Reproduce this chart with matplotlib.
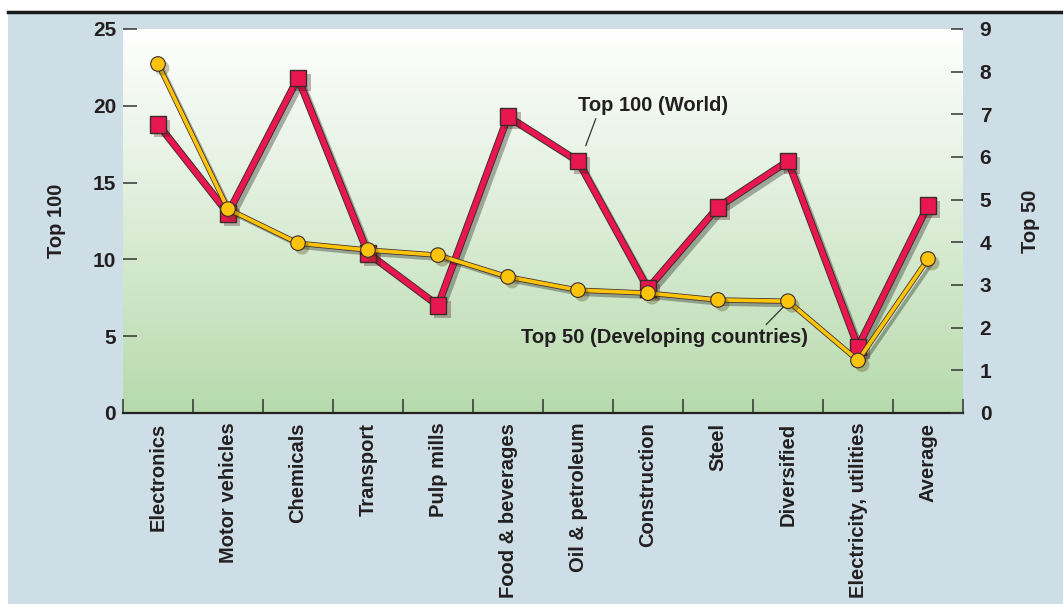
import numpy as np
import matplotlib.pyplot as plt
import matplotlib.patheffects as pe
from matplotlib.colors import LinearSegmentedColormap
from matplotlib.lines import Line2D

plt.rcParams['font.family'] = ['Liberation Sans', 'DejaVu Sans']
plt.rcParams['font.weight'] = 'bold'

categories = ['Electronics', 'Motor vehicles', 'Chemicals', 'Transport', 'Pulp mills',
              'Food & beverages', 'Oil & petroleum', 'Construction', 'Steel',
              'Diversified', 'Electricity, utilities', 'Average']
top100 = [18.8, 13.0, 21.8, 10.4, 7.0, 19.3, 16.4, 8.1, 13.4, 16.4, 4.3, 13.5]
top50 = [8.18, 4.78, 3.98, 3.82, 3.70, 3.19, 2.88, 2.81, 2.65, 2.62, 1.23, 3.61]
left_ticks = [0, 5, 10, 15, 20, 25]
right_ticks = list(range(10))

txt = '#231f20'
red = '#e8174f'
yellow = '#fcc30b'
edge = '#3b2b2b'

fig = plt.figure(figsize=(10.63, 6.04), dpi=100, facecolor='white')
# blue panel + rule at the top
fig.patches.append(plt.Rectangle((8 / 1063, 0), 1, 1 - 12 / 604, transform=fig.transFigure,
                                 facecolor='#cedee7', edgecolor='none', zorder=-10))
fig.add_artist(Line2D([8 / 1063, 1], [1 - 12 / 604] * 2, color='#1a1a1a', lw=2.5))

ax = fig.add_axes([123 / 1063, 1 - 413 / 604, 840 / 1063, 384 / 604])
x = np.arange(len(categories))
ax.set_xlim(-0.5, len(categories) - 0.5)
ax.set_ylim(0, 25)

grad = LinearSegmentedColormap.from_list('g', ['#b6daac', '#dcedd7', '#ffffff'])
ax.imshow(np.linspace(0, 1, 256).reshape(-1, 1), cmap=grad, origin='lower', aspect='auto',
          extent=(-0.5, len(categories) - 0.5, 0, 25), zorder=0)

for s in ['top', 'left', 'right']:
    ax.spines[s].set_visible(False)
ax.spines['bottom'].set_linewidth(1.6)
ax.spines['bottom'].set_color('#222222')
ax.spines['bottom'].set_zorder(5)

ax.set_xticks(x)
ax.set_xticklabels(categories, rotation=90, fontsize=14.5, color=txt, fontweight='bold')
ax.tick_params(axis='x', which='major', length=0, pad=7)
ax.set_xticks(np.arange(-0.5, len(categories)), minor=True)
ax.tick_params(axis='x', which='minor', direction='in', length=10, width=1.1, color='#333333')

ax.set_yticks(left_ticks)
ax.tick_params(axis='y', direction='in', length=10, width=1.1, color='#333333',
               labelsize=15, labelcolor=txt, pad=5)
ax.set_ylabel('Top 100', fontsize=14.5, color=txt, fontweight='bold', labelpad=19)

shadow_line = pe.SimpleLineShadow(offset=(3, -3), shadow_color='k', alpha=0.3)
ax.plot(x, top100, color=red, lw=4, zorder=3,
        path_effects=[shadow_line, pe.Stroke(linewidth=5.3, foreground=edge), pe.Normal()])
ax.plot(x, top100, ls='none', marker='s', ms=12, mfc=red, mec=edge, mew=1, zorder=4,
        path_effects=[pe.SimplePatchShadow(offset=(3, -3), alpha=0.3), pe.Normal()])

ax2 = ax.twinx()
ax2.set_ylim(0, 9)
for s in ['top', 'left', 'right', 'bottom']:
    ax2.spines[s].set_visible(False)
ax2.set_yticks(right_ticks)
ax2.tick_params(axis='y', direction='in', length=9, width=1.1, color='#333333',
                labelsize=15, labelcolor=txt, pad=12)
ax2.set_ylabel('Top 50', fontsize=14.5, color=txt, fontweight='bold', labelpad=21)

ax2.plot(x, top50, color=yellow, lw=2.7, zorder=3,
         path_effects=[shadow_line, pe.Stroke(linewidth=3.8, foreground=edge), pe.Normal()])
ax2.plot(x, top50, ls='none', marker='o', ms=10.5, mfc=yellow, mec=edge, mew=0.8, zorder=4,
         path_effects=[pe.SimplePatchShadow(offset=(3, -3), alpha=0.3), pe.Normal()])

ax2.annotate('Top 100 (World)', xy=(6.11, 17.4), xycoords=ax.transData,
             xytext=(7.07, 20.05), textcoords=ax.transData, ha='center', va='center',
             fontsize=14.5, color=txt, fontweight='bold',
             arrowprops=dict(arrowstyle='-', color='#333333', lw=0.9, relpos=(0.13, 0.0),
                             shrinkA=1, shrinkB=0))
ax2.annotate('Top 50 (Developing countries)', xy=(8.96, 2.53), xytext=(7.24, 1.76),
             ha='center', va='center', fontsize=14.5, color=txt, fontweight='bold',
             arrowprops=dict(arrowstyle='-', color='#333333', lw=0.9, relpos=(0.84, 1.0),
                             shrinkA=1, shrinkB=0))

fig.savefig('out.png', dpi=100, facecolor=fig.get_facecolor())
